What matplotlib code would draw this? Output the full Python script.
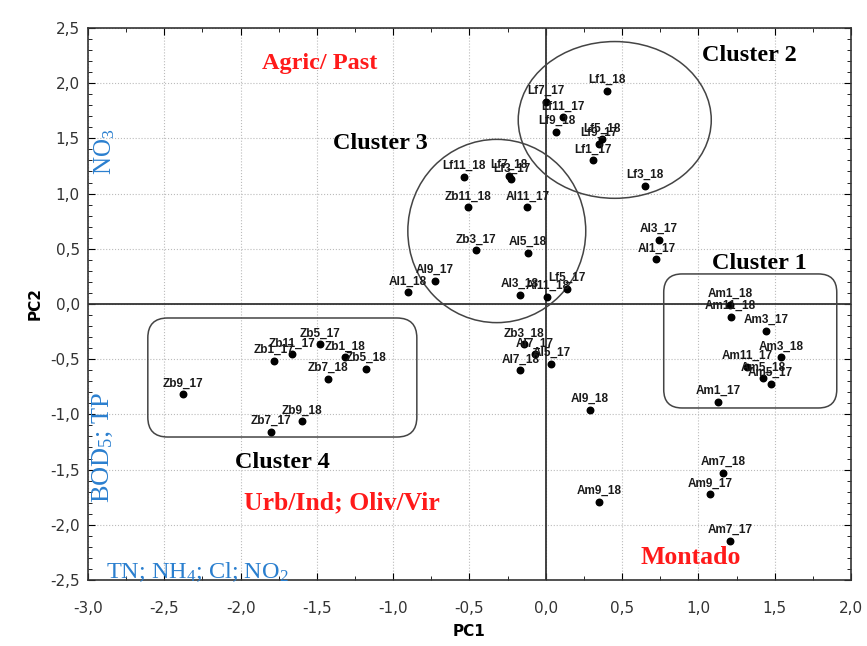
import matplotlib
matplotlib.use("Agg")
import matplotlib.pyplot as plt
from matplotlib.patches import Ellipse, FancyBboxPatch
from matplotlib.ticker import MultipleLocator, FuncFormatter

# sample scores on the first two principal components
names = ["Lf1_18", "Lf7_17", "Lf11_17", "Lf9_18", "Lf5_18", "Lf9_17", "Lf1_17", "Lf3_18",
         "Lf11_18", "Lf7_18", "Lf3_17", "Zb11_18", "Al11_17", "Zb3_17", "Al5_18",
         "Al3_17", "Al1_17", "Al9_17", "Al1_18", "Al3_18", "Al11_18", "Lf5_17",
         "Zb3_18", "Al7_17", "Al5_17", "Al7_18", "Al9_18", "Am9_18",
         "Am1_18", "Am11_18", "Am3_17", "Am3_18", "Am11_17", "Am5_18", "Am5_17", "Am1_17",
         "Zb9_17", "Zb1_17", "Zb11_17", "Zb5_17", "Zb1_18", "Zb5_18", "Zb7_18", "Zb9_18", "Zb7_17",
         "Am7_18", "Am9_17", "Am7_17"]
pc1 = [0.40, 0.00, 0.11, 0.07, 0.37, 0.35, 0.31, 0.65,
       -0.535, -0.24, -0.225, -0.51, -0.12, -0.46, -0.116,
       0.74, 0.725, -0.727, -0.904, -0.17, 0.01, 0.14,
       -0.144, -0.072, 0.037, -0.166, 0.288, 0.347,
       1.206, 1.212, 1.442, 1.54, 1.32, 1.424, 1.474, 1.13,
       -2.377, -1.78, -1.663, -1.481, -1.313, -1.18, -1.426, -1.60, -1.804,
       1.162, 1.079, 1.206]
pc2 = [1.93, 1.83, 1.69, 1.56, 1.49, 1.45, 1.30, 1.07,
       1.15, 1.16, 1.13, 0.876, 0.876, 0.486, 0.465,
       0.58, 0.405, 0.208, 0.106, 0.08, 0.066, 0.14,
       -0.365, -0.456, -0.54, -0.60, -0.96, -1.79,
       -0.01, -0.115, -0.245, -0.483, -0.568, -0.673, -0.725, -0.888,
       -0.818, -0.516, -0.456, -0.365, -0.483, -0.59, -0.68, -1.063, -1.157,
       -1.528, -1.724, -2.144]

serif = "Liberation Serif"
plt.rcParams["mathtext.fontset"] = "custom"
plt.rcParams["mathtext.rm"] = serif
plt.rcParams["mathtext.it"] = serif + ":italic"

fig = plt.figure(figsize=(8.67, 6.46), dpi=100)
ax = fig.add_axes([0.1015, 0.1022, 0.88, 0.8545])

ax.set_xlim(-3.0, 2.0)
ax.set_ylim(-2.5, 2.5)

# zero lines
ax.axhline(0, color="#333333", lw=1.3, zorder=2)
ax.axvline(0, color="#333333", lw=1.3, zorder=2)

ax.scatter(pc1, pc2, s=22, color="black", zorder=4)
for n, x, y in zip(names, pc1, pc2):
    ax.annotate(n, (x, y), xytext=(0, 3.5), textcoords="offset points",
                ha="center", va="bottom", fontsize=8.5, fontweight="bold",
                family="Liberation Sans", color="#1a1a1a", zorder=5)

# cluster outlines
ax.add_patch(Ellipse((0.452, 1.667), 1.265, 1.42, fill=False, ec="#444444", lw=1.1, zorder=3))
ax.add_patch(Ellipse((-0.321, 0.661), 1.166, 1.66, fill=False, ec="#444444", lw=1.1, zorder=3))
ax.add_patch(FancyBboxPatch((0.773, -0.942), 1.134, 1.214,
                            boxstyle="round,pad=0,rounding_size=0.12",
                            mutation_aspect=1.382, fill=False, ec="#444444", lw=1.1, zorder=3))
ax.add_patch(FancyBboxPatch((-2.608, -1.205), 1.763, 1.078,
                            boxstyle="round,pad=0,rounding_size=0.13",
                            mutation_aspect=1.382, fill=False, ec="#444444", lw=1.1, zorder=3))

ax.text(1.337, 2.255, "Cluster 2", fontsize=17.5, fontweight="bold", family=serif, ha="center", va="center")
ax.text(-1.085, 1.458, "Cluster 3", fontsize=17.5, fontweight="bold", family=serif, ha="center", va="center")
ax.text(1.40, 0.371, "Cluster 1", fontsize=17.5, fontweight="bold", family=serif, ha="center", va="center")
ax.text(-1.723, -1.44, "Cluster 4", fontsize=17.5, fontweight="bold", family=serif, ha="center", va="center")

red = "#ff1a1a"
ax.text(-1.48, 2.18, "Agric/ Past", fontsize=17.5, fontweight="bold", family=serif, color=red, ha="center", va="center")
ax.text(-1.337, -1.80, "Urb/Ind; Oliv/Vir", fontsize=18.5, fontweight="bold", family=serif, color=red, ha="center", va="center")
ax.text(0.95, -2.30, "Montado", fontsize=18.5, fontweight="bold", family=serif, color=red, ha="center", va="center")

blue = "#2a7fcf"
ax.text(-2.89, 1.38, r"NO$_3$", fontsize=18, family=serif, color=blue, rotation=90, ha="center", va="center")
ax.text(-2.90, -1.30, r"BOD$_5$; TP", fontsize=19, family=serif, color=blue, rotation=90, ha="center", va="center")
ax.text(-2.284, -2.43, r"TN; NH$_4$; Cl; NO$_2$", fontsize=17.5, family=serif, color=blue, ha="center", va="center")

# axes styling
ax.xaxis.set_major_locator(MultipleLocator(0.5))
ax.yaxis.set_major_locator(MultipleLocator(0.5))
ax.xaxis.set_minor_locator(MultipleLocator(0.25))
ax.yaxis.set_minor_locator(MultipleLocator(0.1))
comma = FuncFormatter(lambda v, p: ("%.1f" % v).replace(".", ","))
ax.xaxis.set_major_formatter(comma)
ax.yaxis.set_major_formatter(comma)
ax.tick_params(which="both", direction="in", top=True, right=True)
ax.tick_params(which="major", length=5, labelsize=11, labelcolor="#333333")
ax.tick_params(axis="x", which="major", pad=15)
ax.tick_params(axis="y", which="major", pad=6)
ax.tick_params(which="minor", length=3)
ax.grid(True, which="major", ls=":", color="#bbbbbb", lw=0.8)
for s in ax.spines.values():
    s.set_color("#333333")
    s.set_linewidth(1.2)

ax.set_xlabel("PC1", fontsize=11, fontweight="bold", labelpad=6)
ax.set_ylabel("PC2", fontsize=11, fontweight="bold", labelpad=5)

fig.savefig("out.png", dpi=100)
